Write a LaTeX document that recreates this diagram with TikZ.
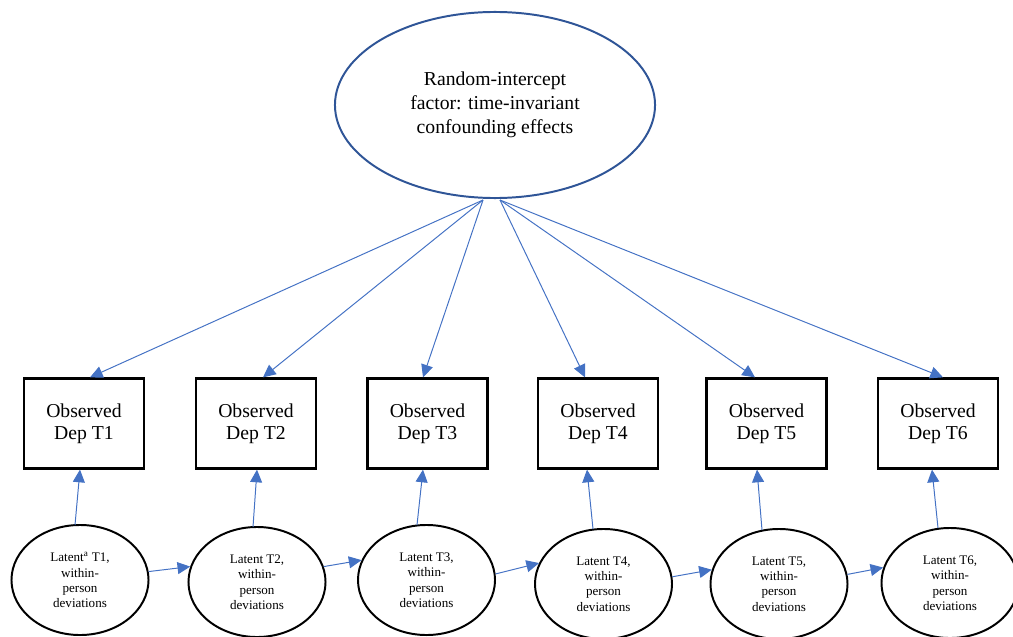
\documentclass[tikz,border=0pt]{standalone}
\usepackage{fontspec}
\setmainfont{Liberation Serif}
\usepackage{tikz}
\usetikzlibrary{shapes.geometric,arrows.meta,positioning,calc}
\definecolor{riblue}{HTML}{2F5597}
\definecolor{arrblue}{HTML}{4472C4}
\tikzstyle{factor} = [draw=riblue, ellipse, line width=1.4pt, minimum width=8cm, minimum height=4.65cm, align=center, font=\fontsize{14}{17}\selectfont]
\tikzstyle{observed} = [draw, rectangle, line width=1.6pt, minimum width=3cm, minimum height=2.25cm, align=center, font=\fontsize{14}{15.6}\selectfont]
\tikzstyle{latent} = [draw, ellipse, line width=1.4pt, minimum width=3.425cm, minimum height=2.75cm, inner sep=0pt, align=center, font=\fontsize{9.3}{11}\selectfont]
\tikzstyle{link} = [->, draw=arrblue, line width=0.7pt]

\begin{document}
\begin{tikzpicture}[x=0.025cm, y=-0.025cm, >={Triangle[length=9pt,width=8.5pt,color=arrblue]}]
    \useasboundingbox (0,0) rectangle (1013,637);
    % Random intercept
    \node [factor] (ri) at (495,105) {Random-intercept\\factor: time-invariant\\confounding effects};
    % Observed
    \node [observed] (obs1) at (84,423.5) {Observed\\Dep T1};
    \node [observed] (obs2) at (256,423.5) {Observed\\Dep T2};
    \node [observed] (obs3) at (427.5,423.5) {Observed\\Dep T3};
    \node [observed] (obs4) at (598,423.5) {Observed\\Dep T4};
    \node [observed] (obs5) at (766.5,423.5) {Observed\\Dep T5};
    \node [observed] (obs6) at (938,423.5) {Observed\\Dep T6};
    % Latent
    \node [latent] (lat1) at (80,580) {Latent\textsuperscript{a} T1,\\within-\\person\\deviations};
    \node [latent] (lat2) at (257,582) {Latent T2,\\within-\\person\\deviations};
    \node [latent] (lat3) at (426.5,580) {Latent T3,\\within-\\person\\deviations};
    \node [latent] (lat4) at (603.5,584) {Latent T4,\\within-\\person\\deviations};
    \node [latent] (lat5) at (779,584) {Latent T5,\\within-\\person\\deviations};
    \node [latent] (lat6) at (950,583) {Latent T6,\\within-\\person\\deviations};

    % Connections
    \coordinate (ril) at ($(ri.south)+(-12,1)$);
    \coordinate (rir) at ($(ri.south)+(5,1)$);
    \draw [link] (ril) -- ($(obs1.north)+(6,0)$);
    \draw [link] (ril) -- ($(obs2.north)+(7,0)$);
    \draw [link] (ril) -- ($(obs3.north)+(-4.5,0)$);
    \draw [link] (rir) -- ($(obs4.north)+(-13,0)$);
    \draw [link] (rir) -- ($(obs5.north)+(-11.5,0)$);
    \draw [link] (rir) -- ($(obs6.north)+(5,0)$);
    \draw [link] ($(lat1.north)+(-5,1)$) -- ($(obs1.south)+(-4,0)$);
    \draw [link] ($(lat2.north)+(-4,1)$) -- ($(obs2.south)+(1,0)$);
    \draw [link] ($(lat3.north)+(-9.5,1)$) -- ($(obs3.south)+(-4.5,0)$);
    \draw [link] ($(lat4.north)+(-10.5,1)$) -- ($(obs4.south)+(-11,0)$);
    \draw [link] ($(lat5.north)+(-17,2)$) -- ($(obs5.south)+(-9.5,0)$);
    \draw [link] ($(lat6.north)+(-12,1)$) -- ($(obs6.south)+(-6,0)$);
    \draw [link] (lat1.7) -- (lat2.167);
    \draw [link] (lat2.13) -- (lat3.163);
    \draw [link] (lat3.5) -- (lat4.162);
    \draw [link] (lat4.6) -- (lat5.168);
    \draw [link] (lat5.8) -- (lat6.167);
\end{tikzpicture}
\end{document}
